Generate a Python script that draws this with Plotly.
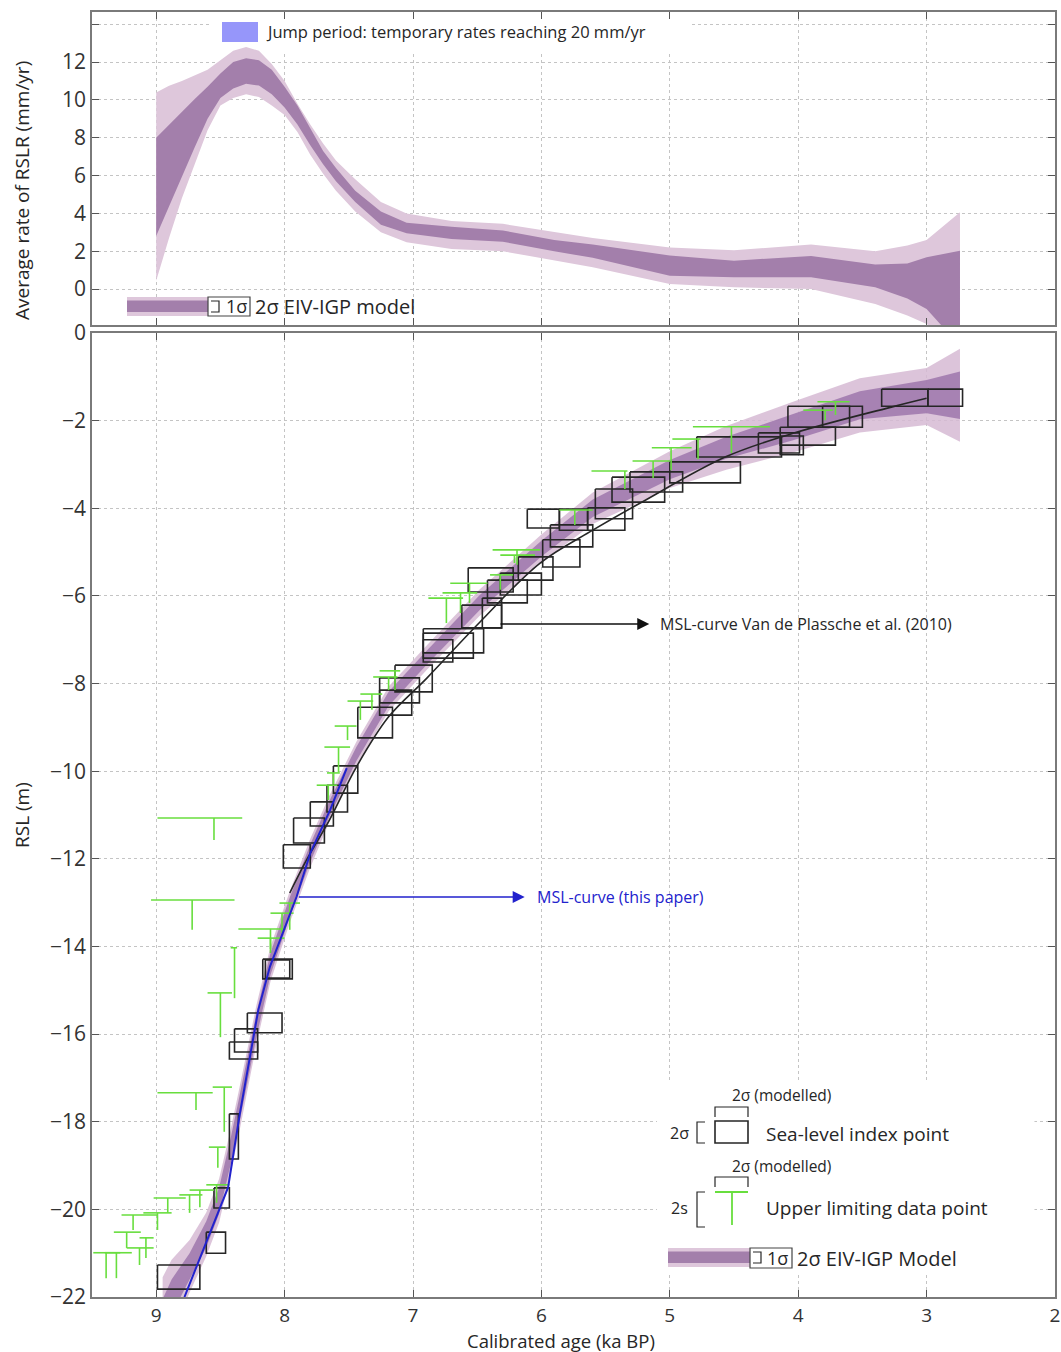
import plotly.graph_objects as go

# ---------------- Top panel: average rate of RSLR (mm/yr) ----------------
rate_age   = [9.0, 8.9, 8.8, 8.7, 8.6, 8.5, 8.4, 8.3, 8.2, 8.1, 8.0, 7.9, 7.8, 7.7, 7.6, 7.45, 7.25, 7.05, 6.7, 6.3, 5.9, 5.6, 5.0, 4.5, 3.9, 3.4, 3.15, 3.0, 2.74]
rate_2s_hi = [10.4, 10.75, 11.0, 11.3, 11.6, 12.1, 12.6, 12.8, 12.6, 11.9, 11.0, 9.8, 8.7, 7.7, 6.8, 5.8, 4.6, 4.0, 3.6, 3.45, 3.0, 2.7, 2.2, 2.05, 2.35, 2.0, 2.3, 2.6, 4.06]
rate_1s_hi = [8.0, 8.7, 9.4, 10.05, 10.7, 11.4, 12.0, 12.2, 12.1, 11.6, 10.7, 9.7, 8.5, 7.3, 6.4, 5.2, 4.1, 3.5, 3.3, 3.1, 2.6, 2.35, 1.77, 1.5, 1.75, 1.3, 1.35, 1.68, 2.03]
rate_1s_lo = [2.8, 4.4, 5.9, 7.5, 9.0, 10.1, 10.6, 10.85, 10.76, 10.3, 9.6, 8.7, 7.6, 6.6, 5.7, 4.6, 3.4, 2.95, 2.65, 2.5, 2.0, 1.65, 0.71, 0.62, 0.62, 0.1, -0.5, -1.06, -3.0]
rate_2s_lo = [0.44, 2.7, 4.8, 6.6, 8.4, 9.7, 10.1, 10.3, 10.15, 9.7, 9.2, 8.3, 7.1, 6.1, 5.2, 4.1, 3.0, 2.47, 2.12, 2.0, 1.5, 1.15, 0.27, 0.09, 0.0, -0.79, -1.4, -1.85, -3.0]

# ---------------- Bottom panel: EIV-IGP RSL model ----------------
model_age = [8.95, 8.88, 8.74, 8.61, 8.51, 8.42, 8.36, 8.22, 8.11, 7.96, 7.80, 7.65, 7.44, 7.19, 6.89, 6.48, 6.0, 5.6, 5.0, 4.56, 4.04, 3.52, 3.0, 2.74]
model_rsl = [-22.5, -22.0, -21.3, -20.57, -19.8, -18.67, -17.84, -15.8, -14.4, -13.1, -11.87, -10.85, -9.6, -8.35, -7.4, -6.15, -4.92, -4.0, -3.12, -2.62, -2.15, -1.65, -1.45, -1.42]
model_1s  = [0.45, 0.4, 0.3, 0.3, 0.3, 0.3, 0.3, 0.28, 0.25, 0.22, 0.2, 0.18, 0.16, 0.16, 0.16, 0.17, 0.18, 0.2, 0.22, 0.25, 0.3, 0.32, 0.38, 0.54]
model_2s  = [0.95, 0.85, 0.6, 0.5, 0.5, 0.5, 0.5, 0.45, 0.4, 0.36, 0.33, 0.3, 0.28, 0.28, 0.28, 0.3, 0.32, 0.36, 0.42, 0.5, 0.58, 0.62, 0.65, 1.06]

# MSL-curve (this paper)
msl_age = [8.78, 8.44, 8.35, 8.205, 8.114, 7.98, 7.906, 7.80, 7.646, 7.516]
msl_rsl = [-22.0, -19.5, -17.84, -15.45, -14.46, -13.4, -12.86, -11.87, -10.89, -9.93]

# MSL-curve Van de Plassche et al. (2010)
vdp_age = [7.96, 7.83, 7.65, 7.44, 7.19, 6.89, 6.48, 6.01, 5.60, 5.23, 4.56, 4.04, 3.26, 3.0]
vdp_rsl = [-12.78, -12.03, -11.11, -9.9, -8.76, -7.87, -6.6, -5.25, -4.5, -3.88, -2.82, -2.29, -1.68, -1.49]

# Sea-level index points (2-sigma age range, 2-sigma RSL range)
sl_age_old   = [3.35, 2.99, 4.08, 3.81, 4.14, 4.31, 4.14, 4.79, 5.00, 5.31, 5.45, 5.58, 5.64, 5.86, 6.11, 5.93, 5.99, 6.18, 6.32, 6.57, 6.42, 6.62, 6.46, 6.92, 6.92, 6.92, 7.14, 7.26, 7.26, 7.43, 7.62, 7.67, 7.80, 7.93, 8.01, 8.17, 8.15, 8.29, 8.39, 8.43, 8.43, 8.55, 8.61, 8.99]
sl_age_young = [2.99, 2.72, 3.60, 3.50, 3.71, 3.99, 3.96, 4.13, 4.45, 4.90, 5.04, 5.29, 5.35, 5.64, 5.86, 5.60, 5.70, 5.91, 6.00, 6.22, 6.11, 6.31, 6.31, 6.45, 6.53, 6.69, 6.85, 6.95, 7.01, 7.16, 7.43, 7.51, 7.62, 7.69, 7.80, 7.94, 7.96, 8.02, 8.21, 8.21, 8.36, 8.43, 8.46, 8.66]
sl_rsl_top   = [-1.28, -1.28, -1.67, -1.67, -2.15, -2.28, -2.35, -2.37, -2.94, -3.17, -3.29, -3.56, -3.99, -4.02, -4.02, -4.38, -4.72, -5.11, -5.48, -5.36, -5.64, -6.21, -6.05, -6.75, -6.85, -7.00, -7.58, -7.87, -8.15, -8.54, -9.88, -10.32, -10.70, -11.07, -11.68, -14.29, -14.31, -15.52, -15.88, -16.18, -17.82, -19.51, -20.52, -21.27]
sl_rsl_bot   = [-1.67, -1.67, -2.15, -2.15, -2.56, -2.74, -2.78, -2.83, -3.42, -3.63, -3.86, -4.24, -4.50, -4.50, -4.45, -4.88, -5.34, -5.64, -5.98, -5.91, -6.16, -6.73, -6.73, -7.30, -7.42, -7.51, -8.19, -8.44, -8.72, -9.24, -10.50, -10.93, -11.25, -11.64, -12.21, -14.74, -14.72, -15.97, -16.41, -16.57, -18.85, -19.97, -21.00, -21.82]

# Upper limiting data points (age range, upper limit, stem age, lower end)
ul_age_old   = [8.99, 9.04, 8.36, 8.21, 8.04, 8.11, 8.42, 8.60, 8.99, 8.56, 8.59, 8.61, 8.74, 8.82, 9.02, 9.10, 9.27, 9.33, 9.23, 9.13, 9.49, 9.40, 7.75, 7.67, 7.69, 7.61, 7.51, 7.41, 7.31, 7.26, 6.88, 6.77, 6.71, 6.40, 6.38, 6.32, 5.86, 5.61, 5.29, 5.14, 4.98, 4.82, 3.96, 3.85]
ul_age_young = [8.33, 8.39, 7.99, 8.00, 7.88, 7.93, 8.37, 8.41, 8.56, 8.41, 8.46, 8.43, 8.55, 8.64, 8.77, 8.88, 8.99, 9.12, 9.02, 9.02, 9.28, 9.19, 7.59, 7.57, 7.49, 7.44, 7.31, 7.24, 7.12, 7.10, 6.61, 6.50, 6.42, 6.22, 6.01, 6.05, 5.60, 5.33, 5.00, 4.83, 4.76, 4.22, 3.73, 3.60]
ul_rsl_top   = [-11.07, -12.94, -13.60, -13.81, -13.01, -13.24, -14.03, -15.06, -17.34, -17.21, -18.58, -19.44, -19.56, -19.67, -19.74, -20.08, -20.13, -20.52, -20.88, -20.65, -20.99, -20.99, -10.32, -10.04, -9.45, -8.97, -8.40, -8.24, -7.85, -7.71, -6.05, -5.93, -5.71, -5.52, -4.95, -5.07, -4.04, -3.15, -2.92, -2.62, -2.42, -2.14, -1.76, -1.57]
ul_stem_age  = [8.55, 8.72, 8.11, 8.11, 7.96, 8.02, 8.39, 8.50, 8.69, 8.47, 8.52, 8.53, 8.66, 8.74, 8.91, 8.99, 9.18, 9.23, 9.13, 9.08, 9.39, 9.31, 7.66, 7.62, 7.58, 7.51, 7.41, 7.32, 7.19, 7.14, 6.74, 6.63, 6.56, 6.32, 6.19, 6.21, 5.74, 5.35, 5.13, 4.99, 4.78, 4.52, 3.79, 3.71]
ul_rsl_bot   = [-11.57, -13.62, -14.15, -14.06, -13.62, -13.69, -15.18, -16.07, -17.73, -18.23, -19.05, -19.85, -19.95, -20.08, -20.08, -20.47, -20.47, -20.88, -21.27, -21.11, -21.57, -21.57, -10.66, -10.30, -10.02, -9.29, -8.83, -8.60, -8.15, -8.15, -6.62, -6.39, -6.16, -5.86, -5.29, -5.25, -4.38, -3.56, -3.31, -3.13, -2.88, -2.74, -1.99, -1.87]

x_ticks = [9, 8, 7, 6, 5, 4, 3, 2]

LIGHT = 'rgb(222,199,219)'
DARK = 'rgb(163,127,171)'
GREEN = 'rgb(104,222,62)'
BLUE = 'rgb(34,34,205)'
INK = '#262626'
FONT = 'Open Sans, DejaVu Sans, sans-serif'

fig = go.Figure()

def band(xs, lo, hi, color, xa, ya):
    fig.add_trace(go.Scatter(x=xs, y=lo, xaxis=xa, yaxis=ya, mode='lines', line=dict(width=0, color=color),
                             hoverinfo='skip', showlegend=False))
    fig.add_trace(go.Scatter(x=xs, y=hi, xaxis=xa, yaxis=ya, mode='lines', line=dict(width=0, color=color),
                             fill='tonexty', fillcolor=color, hoverinfo='skip', showlegend=False))

band(rate_age, rate_2s_lo, rate_2s_hi, LIGHT, 'x', 'y')
band(rate_age, rate_1s_lo, rate_1s_hi, DARK, 'x', 'y')

lo2 = [m - s for m, s in zip(model_rsl, model_2s)]
hi2 = [m + s for m, s in zip(model_rsl, model_2s)]
lo1 = [m - s for m, s in zip(model_rsl, model_1s)]
hi1 = [m + s for m, s in zip(model_rsl, model_1s)]
band(model_age, lo2, hi2, 'rgba(214,186,212,0.85)', 'x2', 'y2')
band(model_age, lo1, hi1, 'rgba(150,108,165,0.75)', 'x2', 'y2')

bx, by = [], []
for a0, a1, r0, r1 in zip(sl_age_old, sl_age_young, sl_rsl_top, sl_rsl_bot):
    bx += [a0, a1, a1, a0, a0, None]
    by += [r0, r0, r1, r1, r0, None]
fig.add_trace(go.Scatter(x=bx, y=by, xaxis='x2', yaxis='y2', mode='lines',
                         line=dict(color=INK, width=1.6), hoverinfo='skip', showlegend=False))

gx, gy = [], []
for a0, a1, rt, sa, rb in zip(ul_age_old, ul_age_young, ul_rsl_top, ul_stem_age, ul_rsl_bot):
    gx += [a0, a1, None, sa, sa, None]
    gy += [rt, rt, None, rt, rb, None]
fig.add_trace(go.Scatter(x=gx, y=gy, xaxis='x2', yaxis='y2', mode='lines',
                         line=dict(color=GREEN, width=1.6), hoverinfo='skip', showlegend=False))

fig.add_trace(go.Scatter(x=vdp_age, y=vdp_rsl, xaxis='x2', yaxis='y2', mode='lines',
                         line=dict(color=INK, width=1.6, shape='spline'), hoverinfo='skip', showlegend=False))
fig.add_trace(go.Scatter(x=msl_age, y=msl_rsl, xaxis='x2', yaxis='y2', mode='lines',
                         line=dict(color=BLUE, width=2), hoverinfo='skip', showlegend=False))

L, T, W, H = 92, 12, 963, 1285
def px(x):
    return (x - L) / W
def py(y):
    return (T + H - y) / H

axis_common = dict(showline=True, linecolor='#7a7a7a', linewidth=1.6, mirror='ticks',
                   ticks='inside', ticklen=7, tickwidth=1.4, tickcolor='#555', automargin=False,
                   showgrid=True, gridcolor='#c4c4c4', griddash='dot', gridwidth=1.4,
                   zeroline=False, tickfont=dict(family=FONT, size=21, color='#333'))

fig.update_layout(
    template='none',
    width=1061, height=1352,
    margin=dict(l=L, r=1061 - L - W, t=T, b=1352 - T - H, autoexpand=False),
    paper_bgcolor='white', plot_bgcolor='white',
    showlegend=False,
    xaxis=dict(axis_common, domain=[0, 1], anchor='y', range=[9.5, 2], tickvals=x_ticks, showticklabels=False),
    yaxis=dict(axis_common, domain=[py(325), 1], anchor='x', range=[-1.9, 14.65],
               tickvals=[0, 2, 4, 6, 8, 10, 12, 14], ticktext=['0', '2', '4', '6', '8', '10', '12', '']),
    xaxis2=dict(axis_common, domain=[0, 1], anchor='y2', range=[9.5, 2], tickvals=x_ticks,
                ticklabeloverflow='allow', ticklabelstandoff=0,
                tickfont=dict(family=FONT, size=19, color='#333')),
    yaxis2=dict(axis_common, domain=[0, py(333)], anchor='x2', range=[-22, 0],
                tickvals=list(range(-22, 1, 2))),
)

shapes = []
shapes.append(dict(type='rect', xref='x', yref='y', x0=8.58, x1=4.84, y0=12.54, y1=14.65,
                   fillcolor='white', line=dict(width=0), layer='between'))
shapes.append(dict(type='rect', xref='x2', yref='y2', x0=5.1, x1=2.16, y0=-17.1, y1=-21.5,
                   fillcolor='white', line=dict(width=0), layer='between'))

def prect(x0, x1, y0, y1, fill=None, line=None):
    d = dict(type='rect', xref='paper', yref='paper', x0=px(x0), x1=px(x1), y0=py(y1), y1=py(y0))
    d['fillcolor'] = fill if fill else 'rgba(0,0,0,0)'
    d['line'] = line if line else dict(width=0)
    return d

def ppath(points, color=INK, width=1.3):
    s = 'M ' + ' L '.join(f'{px(a):.5f},{py(b):.5f}' for a, b in points)
    return dict(type='path', xref='paper', yref='paper', path=s, line=dict(color=color, width=width))

shapes.append(prect(222, 258, 22, 42, fill='rgb(150,150,250)'))
shapes.append(prect(127, 208, 297, 316, fill=LIGHT))
shapes.append(prect(127, 208, 300.5, 312, fill=DARK))
shapes.append(prect(208, 250, 297, 316, line=dict(color='#444', width=1.2)))
shapes.append(ppath([(211, 301), (219, 301), (219, 312), (211, 312)], width=1.2))

shapes.append(ppath([(715, 1117), (715, 1107), (748, 1107), (748, 1117)], width=1.2))
shapes.append(prect(715, 748, 1121, 1143, line=dict(color=INK, width=1.6)))
shapes.append(ppath([(705, 1122), (697, 1122), (697, 1143), (705, 1143)], width=1.2))
shapes.append(ppath([(715, 1187), (715, 1177), (748, 1177), (748, 1187)], width=1.2))
shapes.append(ppath([(715, 1192), (748, 1192)], color=GREEN, width=1.8))
shapes.append(ppath([(732, 1192), (732, 1225)], color=GREEN, width=1.8))
shapes.append(ppath([(705, 1192), (697, 1192), (697, 1227), (705, 1227)], width=1.2))
shapes.append(prect(668, 750, 1248, 1267, fill=LIGHT))
shapes.append(prect(668, 750, 1251.5, 1263, fill=DARK))
shapes.append(prect(750, 792, 1248, 1268, line=dict(color='#444', width=1.2)))
shapes.append(ppath([(753, 1252), (761, 1252), (761, 1263), (753, 1263)], width=1.2))

fig.update_layout(shapes=shapes)

ann = []
def ptext(x, y, text, size=18, xanchor='left', color=INK, angle=0):
    ann.append(dict(xref='paper', yref='paper', x=px(x), y=py(y), text=text, showarrow=False,
                    xanchor=xanchor, yanchor='middle', textangle=angle,
                    font=dict(family=FONT, size=size, color=color)))

ptext(264, 32, 'Jump period: temporary rates reaching 20 mm/yr', size=16.5)
ptext(236, 306.5, '1σ', size=18, xanchor='center')
ptext(253, 306.5, '2σ EIV-IGP model', size=20)

ptext(781, 1095, '2σ (modelled)', size=15.5, xanchor='center')
ptext(679, 1133, '2σ', size=16, xanchor='center')
ptext(764, 1134, 'Sea-level index point', size=19)
ptext(781, 1166, '2σ (modelled)', size=15.5, xanchor='center')
ptext(679, 1208, '2s', size=16, xanchor='center')
ptext(764, 1208, 'Upper limiting data point', size=19)
ptext(777, 1258, '1σ', size=18, xanchor='center')
ptext(795, 1258, '2σ EIV-IGP Model', size=20)

ptext(561, 1340, 'Calibrated age (ka BP)', size=18.5, xanchor='center')
ptext(22, 191, 'Average rate of RSLR (mm/yr)', size=19, xanchor='center', angle=-90)
ptext(22, 815, 'RSL (m)', size=19, xanchor='center', angle=-90)

ann.append(dict(xref='x2', yref='y2', axref='x2', ayref='y2', x=5.16, y=-6.64, ax=6.33, ay=-6.64,
                text='', showarrow=True, arrowhead=2, arrowsize=1.6, arrowwidth=1.5, arrowcolor='#111'))
ann.append(dict(xref='x2', yref='y2', x=5.09, y=-6.64, text='MSL-curve Van de Plassche et al. (2010)',
                showarrow=False, xanchor='left', yanchor='middle', font=dict(family=FONT, size=16, color=INK)))
ann.append(dict(xref='x2', yref='y2', axref='x2', ayref='y2', x=6.13, y=-12.87, ax=7.90, ay=-12.87,
                text='', showarrow=True, arrowhead=2, arrowsize=1.6, arrowwidth=1.5, arrowcolor=BLUE))
ann.append(dict(xref='x2', yref='y2', x=6.05, y=-12.87, text='MSL-curve (this paper)',
                showarrow=False, xanchor='left', yanchor='middle', font=dict(family=FONT, size=16, color=BLUE)))

fig.update_layout(annotations=ann)

fig.write_html('out.html', config={'displayModeBar': False},
               post_script="document.body.style.margin='0';document.body.style.padding='0';"
                           "document.body.style.overflow='hidden';")
